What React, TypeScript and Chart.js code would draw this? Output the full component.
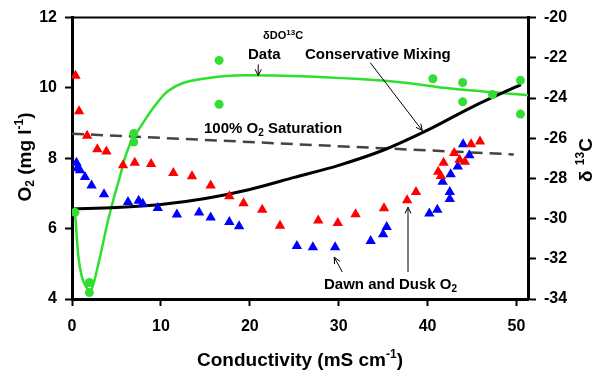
import React, { useEffect, useRef } from "react";
import { Chart, registerables } from "chart.js";

Chart.register(...registerables);

// Dawn (red) and dusk (blue) O2 observations, mg/l (left axis)
const redX = [0.4, 0.8, 1.7, 2.85, 3.87, 5.74, 7.06, 8.9, 11.4, 13.5, 15.6, 17.7, 19.3, 21.4, 23.4, 27.7, 29.9, 31.9, 35.1, 37.7, 38.7, 41.2, 41.5, 41.8, 43.0, 43.6, 44.2, 44.9, 45.9];
const redO2 = [10.35, 9.34, 8.64, 8.26, 8.19, 7.8, 7.87, 7.84, 7.58, 7.49, 7.23, 6.92, 6.72, 6.54, 6.08, 6.23, 6.16, 6.41, 6.58, 6.81, 7.04, 7.62, 7.5, 7.87, 8.15, 7.96, 7.9, 8.4, 8.48];
const blueX = [0.5, 0.6, 0.9, 1.46, 2.2, 3.6, 6.3, 7.5, 7.96, 9.65, 11.8, 14.3, 15.6, 17.7, 18.8, 25.3, 27.1, 29.6, 33.6, 35.0, 35.4, 40.2, 41.1, 42.5, 42.5, 41.7, 42.6, 43.4, 44.7, 44.0];
const blueO2 = [7.87, 7.72, 7.66, 7.47, 7.23, 6.98, 6.76, 6.79, 6.71, 6.59, 6.4, 6.46, 6.32, 6.19, 6.07, 5.51, 5.47, 5.47, 5.65, 5.84, 6.05, 6.43, 6.54, 6.84, 7.04, 7.33, 7.55, 7.77, 8.09, 8.4];

// δDO13C data (right axis)
const dataX = [0.34, 1.95, 1.95, 6.95, 6.95, 16.55, 16.55, 40.6, 43.95, 43.95, 47.3, 50.45, 50.45];
const dataD13C = [-29.69, -33.18, -33.68, -25.76, -26.19, -22.13, -24.31, -23.04, -23.23, -24.19, -23.83, -23.12, -24.8];

// Green model curve (right axis)
const modelX = [0.34, 0.71, 1.09, 1.65, 2.03, 2.4, 2.78, 3.34, 3.9, 4.65, 5.4, 5.89, 6.72, 7.47, 8.97, 10.47, 12.35, 14.98, 19.5, 25.7, 36.6, 42.6, 51.3];
const modelD13C = [-29.69, -31.86, -32.86, -33.43, -33.65, -33.27, -32.61, -31.54, -30.38, -29.06, -27.9, -27.08, -26.09, -25.59, -24.6, -23.78, -23.28, -23.03, -22.87, -22.92, -23.2, -23.53, -23.86];

// Conservative mixing curve (right axis)
const mixX = [0, 5, 10, 15, 20, 25, 30, 35, 40, 45, 50.5];
const mixD13C = [-29.52, -29.45, -29.3, -29.0, -28.55, -27.95, -27.35, -26.6, -25.6, -24.45, -23.33];

// 100% O2 saturation (left axis)
const satX = [0, 49.7];
const satO2 = [8.7, 8.11];

const xTicks = [0, 10, 20, 30, 40, 50];
const leftTicks = [4, 6, 8, 10, 12];
const rightTicks = [-34, -32, -30, -28, -26, -24, -22, -20];

const FONT = "'Liberation Sans', Arial, sans-serif";
const zip = (xs: number[], ys: number[]) => xs.map((x, i) => ({ x, y: ys[i] }));

type Part = { text: string; size: number; dy?: number };

function drawRich(ctx: CanvasRenderingContext2D, parts: Part[], x: number, y: number, align: "left" | "center", rot = 0) {
  ctx.save();
  ctx.translate(x, y);
  ctx.rotate(rot);
  ctx.textBaseline = "alphabetic";
  ctx.textAlign = "left";
  const widths = parts.map((p) => {
    ctx.font = `bold ${p.size}px ${FONT}`;
    return ctx.measureText(p.text).width;
  });
  const total = widths.reduce((a, b) => a + b, 0);
  let cx = align === "center" ? -total / 2 : 0;
  parts.forEach((p, i) => {
    ctx.font = `bold ${p.size}px ${FONT}`;
    ctx.fillText(p.text, cx, p.dy || 0);
    cx += widths[i];
  });
  ctx.restore();
}

function arrow(ctx: CanvasRenderingContext2D, x1: number, y1: number, x2: number, y2: number) {
  ctx.save();
  ctx.strokeStyle = "#000";
  ctx.lineWidth = 1;
  ctx.beginPath();
  ctx.moveTo(x1, y1);
  ctx.lineTo(x2, y2);
  const a = Math.atan2(y2 - y1, x2 - x1);
  const L = 7;
  ctx.moveTo(x2 - L * Math.cos(a - 0.45), y2 - L * Math.sin(a - 0.45));
  ctx.lineTo(x2, y2);
  ctx.lineTo(x2 - L * Math.cos(a + 0.45), y2 - L * Math.sin(a + 0.45));
  ctx.stroke();
  ctx.restore();
}

const annotPlugin = {
  id: "annot",
  afterDraw(chart: any) {
    const ctx = chart.ctx as CanvasRenderingContext2D;
    const xs = chart.scales.x;
    const ys = chart.scales.y;
    const area = chart.chartArea;
    const X = (v: number) => xs.getPixelForValue(v);
    const Y = (v: number) => ys.getPixelForValue(v);
    ctx.save();
    // top frame line
    ctx.strokeStyle = "#000";
    ctx.lineWidth = 2;
    ctx.beginPath();
    ctx.moveTo(area.left, area.top);
    ctx.lineTo(area.right, area.top);
    ctx.stroke();
    ctx.fillStyle = "#000";

    // annotations (positioned in data units)
    drawRich(ctx, [
      { text: "δDO", size: 11 },
      { text: "13", size: 8, dy: -4 },
      { text: "C", size: 11 },
    ], X(21.5), Y(11.4), "left");
    drawRich(ctx, [{ text: "Data", size: 15 }], X(19.8), Y(10.81), "left");
    drawRich(ctx, [{ text: "Conservative Mixing", size: 15 }], X(26.2), Y(10.81), "left");
    drawRich(ctx, [
      { text: "100% O", size: 15 },
      { text: "2", size: 10, dy: 3 },
      { text: " Saturation", size: 15 },
    ], X(14.85), Y(8.71), "left");
    drawRich(ctx, [
      { text: "Dawn and Dusk O", size: 15 },
      { text: "2", size: 10, dy: 3 },
    ], X(28.35), Y(4.28), "left");

    arrow(ctx, X(20.95), Y(10.67), X(20.95), Y(10.35));
    arrow(ctx, X(33.55), Y(10.72), X(39.4), Y(8.79));
    arrow(ctx, X(30.4), Y(4.77), X(29.5), Y(5.19));
    arrow(ctx, X(37.8), Y(4.77), X(37.8), Y(6.61));

    // axis titles
    drawRich(ctx, [
      { text: "Conductivity (mS cm", size: 19 },
      { text: "-1", size: 12, dy: -8 },
      { text: ")", size: 19 },
    ], 300, 366, "center");
    drawRich(ctx, [
      { text: "O", size: 19 },
      { text: "2", size: 12, dy: 3 },
      { text: " (mg l", size: 19 },
      { text: "-1", size: 12, dy: -8 },
      { text: ")", size: 19 },
    ], 31, 157, "center", -Math.PI / 2);
    drawRich(ctx, [
      { text: "δ ", size: 19 },
      { text: "13", size: 12, dy: -8 },
      { text: "C", size: 19 },
    ], 592, 160, "center", -Math.PI / 2);
    ctx.restore();
  },
};

export default function App() {
  const ref = useRef<HTMLCanvasElement>(null);
  useEffect(() => {
    if (!ref.current) return;
    Chart.defaults.font.family = FONT;
    const tickFont = { family: FONT, size: 16, weight: "bold" as const };
    const chart = new Chart(ref.current, {
      type: "scatter",
      data: {
        datasets: [
          {
            label: "δDO13C data",
            data: zip(dataX, dataD13C),
            yAxisID: "y2",
            pointStyle: "circle",
            pointRadius: 4.5,
            pointBackgroundColor: "#33dd33",
            pointBorderWidth: 0,
            showLine: false,
            order: 1,
          },
          {
            label: "Dawn O2",
            data: zip(redX, redO2),
            yAxisID: "y",
            pointStyle: "triangle",
            pointRadius: 6,
            pointBackgroundColor: "#ff0000",
            pointBorderWidth: 0,
            showLine: false,
            order: 2,
          },
          {
            label: "Dusk O2",
            data: zip(blueX, blueO2),
            yAxisID: "y",
            pointStyle: "triangle",
            pointRadius: 6,
            pointBackgroundColor: "#0000ff",
            pointBorderWidth: 0,
            showLine: false,
            order: 3,
          },
          {
            label: "Conservative mixing",
            data: zip(mixX, mixD13C),
            yAxisID: "y2",
            showLine: true,
            borderColor: "#000",
            borderWidth: 3,
            pointRadius: 0,
            cubicInterpolationMode: "monotone",
            order: 4,
          },
          {
            label: "Model",
            data: zip(modelX, modelD13C),
            yAxisID: "y2",
            showLine: true,
            borderColor: "#2ee02e",
            borderWidth: 2.5,
            pointRadius: 0,
            cubicInterpolationMode: "monotone",
            order: 5,
          },
          {
            label: "100% O2 saturation",
            data: zip(satX, satO2),
            yAxisID: "y",
            showLine: true,
            borderColor: "#444",
            borderWidth: 2.5,
            borderDash: [12, 7],
            pointRadius: 0,
            order: 6,
          },
        ],
      },
      options: {
        animation: false,
        responsive: false,
        layout: { padding: { top: 17, left: 0, right: 0, bottom: 0 } },
        plugins: { legend: { display: false }, tooltip: { enabled: false } },
        scales: {
          x: {
            type: "linear",
            min: 0,
            max: 51.3,
            afterBuildTicks: (s: any) => { s.ticks = xTicks.map((v) => ({ value: v })); },
            afterFit: (s: any) => { s.height = 74; },
            ticks: { font: tickFont, color: "#000", padding: 11 },
            grid: { drawOnChartArea: false, tickLength: 7, tickColor: "#000", tickWidth: 2 },
            border: { color: "#000", width: 3 },
          },
          y: {
            position: "left",
            min: 4,
            max: 12,
            afterBuildTicks: (s: any) => { s.ticks = leftTicks.map((v) => ({ value: v })); },
            afterFit: (s: any) => { s.width = 72; },
            ticks: { font: tickFont, color: "#000", padding: 8 },
            grid: { drawOnChartArea: false, tickLength: 7, tickColor: "#000", tickWidth: 2 },
            border: { color: "#000", width: 3 },
          },
          y2: {
            position: "right",
            min: -34,
            max: -20,
            afterBuildTicks: (s: any) => { s.ticks = rightTicks.map((v) => ({ value: v })); },
            afterFit: (s: any) => { s.width = 69; },
            ticks: { font: tickFont, color: "#000", padding: 8 },
            grid: { drawOnChartArea: false, tickLength: 8, tickColor: "#000", tickWidth: 2 },
            border: { color: "#000", width: 3 },
          },
        },
      },
      plugins: [annotPlugin],
    } as any);
    return () => chart.destroy();
  }, []);
  return (
    <div style={{ position: "fixed", left: 0, top: 0, width: 597, height: 373, background: "#fff" }}>
      <canvas ref={ref} width={597} height={373} />
    </div>
  );
}
